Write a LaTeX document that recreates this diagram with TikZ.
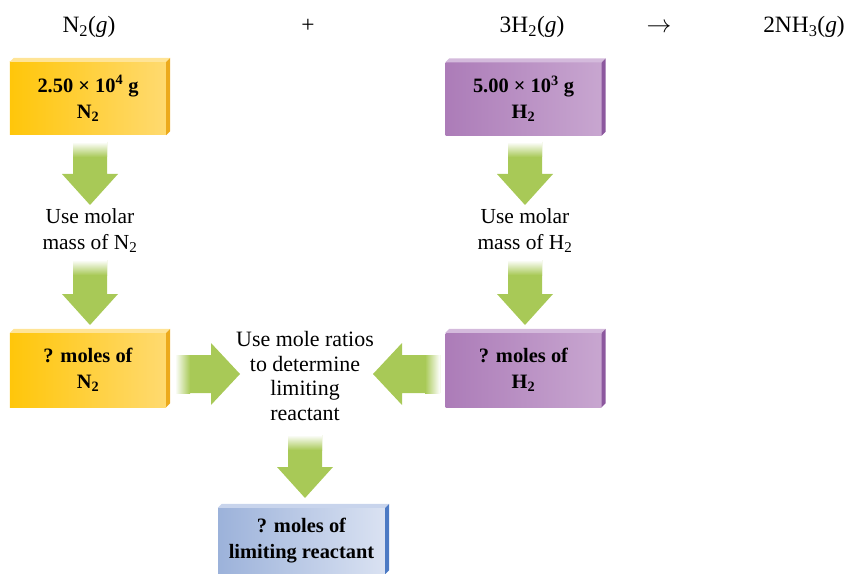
\documentclass[tikz,border=0pt]{standalone}
\usepackage{fontspec}
\setmainfont{Liberation Serif}
\usetikzlibrary{calc}

\definecolor{agreen}{RGB}{168,201,87}
\definecolor{yelL}{RGB}{255,198,10}
\definecolor{yelR}{RGB}{255,218,112}
\definecolor{yelTop}{RGB}{255,228,150}
\definecolor{yelSide}{RGB}{236,170,28}
\definecolor{purL}{RGB}{172,124,184}
\definecolor{purR}{RGB}{200,166,208}
\definecolor{purTop}{RGB}{212,186,220}
\definecolor{purSide}{RGB}{140,88,158}
\definecolor{bluL}{RGB}{156,178,218}
\definecolor{bluR}{RGB}{218,226,242}
\definecolor{bluTop}{RGB}{200,212,236}
\definecolor{bluSide}{RGB}{76,122,196}

\tikzset{
  slab/.style={inner sep=0pt, minimum width=156bp, minimum height=73bp,
    align=center, font=\fontsize{20.5}{26}\selectfont\bfseries},
  ybox/.style={slab, left color=yelL, right color=yelR},
  pbox/.style={slab, left color=purL, right color=purR},
  bbox/.style={slab, left color=bluL, right color=bluR},
  note/.style={align=center, font=\fontsize{21.5}{26}\selectfont},
  eqn/.style={anchor=base, inner sep=0pt, font=\fontsize{23.5}{28}\selectfont},
}

% top and right faces of a slab node
\newcommand\slabfaces[3]{%
  \fill[#2] (#1.north west) -- ($(#1.north west)+(4,-4)$)
    -- ($(#1.north east)+(4,-4)$) -- (#1.north east) -- cycle;
  \fill[#3] (#1.north east) -- ($(#1.north east)+(4,-4)$)
    -- ($(#1.south east)+(4,-4)$) -- (#1.south east) -- cycle;}

% fat arrows, shaft fading out at the tail
\newcommand\downblock[2]{%
  \fill[agreen] let \p1=(#1), \p2=(#2) in
    (\x1-17bp,\y1) -- (\x1+17bp,\y1) -- (\x1+17bp,\y2+31bp) -- (\x1+28bp,\y2+31bp)
    -- (\x1,\y2) -- (\x1-28bp,\y2+31bp) -- (\x1-17bp,\y2+31bp) -- cycle;
  \shade[top color=white, bottom color=agreen] let \p1=(#1) in
    (\x1-17bp,\y1) rectangle (\x1+17bp,\y1-15bp);}
\newcommand\rightblock[2]{%
  \fill[agreen] let \p1=(#1), \p2=(#2) in
    (\x1,\y1+19bp) -- (\x2-29bp,\y1+19bp) -- (\x2-29bp,\y1+31bp) -- (\x2,\y1)
    -- (\x2-29bp,\y1-31bp) -- (\x2-29bp,\y1-19bp) -- (\x1,\y1-19bp) -- cycle;
  \shade[left color=white, right color=agreen] let \p1=(#1) in
    (\x1,\y1-19bp) rectangle (\x1+15bp,\y1+19bp);}
\newcommand\leftblock[2]{%
  \fill[agreen] let \p1=(#1), \p2=(#2) in
    (\x1,\y1+19bp) -- (\x2+29bp,\y1+19bp) -- (\x2+29bp,\y1+31bp) -- (\x2,\y1)
    -- (\x2+29bp,\y1-31bp) -- (\x2+29bp,\y1-19bp) -- (\x1,\y1-19bp) -- cycle;
  \shade[left color=agreen, right color=white] let \p1=(#1) in
    (\x1-15bp,\y1-19bp) rectangle (\x1,\y1+19bp);}

\begin{document}
\begin{tikzpicture}[x=1bp, y=-1bp]
\useasboundingbox (0,0) rectangle (848,574);

% reaction equation
\node[eqn] (eqN)   at (89,33)  {N\textsubscript{2}(\textit{g})};
\node[eqn] (eqP)   at (308,33) {+};
\node[eqn] (eqH)   at (532,33) {3H\textsubscript{2}(\textit{g})};
\node[eqn, font=\fontsize{27}{28}\selectfont] (eqA) at (659,33) {$\rightarrow$};
\node[eqn] (eqNH)  at (804,33) {2NH\textsubscript{3}(\textit{g})};

% slabs
\node[ybox] (n2g) at (88,98.5) {2.50 × 10\textsuperscript{4} g\\N\textsubscript{2}};
\slabfaces{n2g}{yelTop}{yelSide}
\node[pbox] (h2g) at (523.5,99) {5.00 × 10\textsuperscript{3} g\\H\textsubscript{2}};
\slabfaces{h2g}{purTop}{purSide}
\node[ybox, minimum height=74bp] (n2mol) at (88,370) {? moles of\\N\textsubscript{2}};
\slabfaces{n2mol}{yelTop}{yelSide}
\node[pbox, minimum height=74bp] (h2mol) at (523.5,370) {? moles of\\H\textsubscript{2}};
\slabfaces{h2mol}{purTop}{purSide}
\node[bbox, minimum width=167bp, minimum height=66bp] (limmol) at (301.5,541) {? moles of\\limiting reactant};
\slabfaces{limmol}{bluTop}{bluSide}

% step notes
\node[note] (usemN) at (90,231) {Use molar\\mass of N\textsubscript{2}};
\node[note] (usemH) at (525,231) {Use molar\\mass of H\textsubscript{2}};
\node[note, font=\fontsize{22}{24.5}\selectfont] (ratio) at (305,376)
  {Use mole ratios\\to determine\\limiting\\reactant};

% arrow ends
\coordinate (a1s) at (90,142);  \coordinate (a1e) at (90,205);
\coordinate (a2s) at (90,260);  \coordinate (a2e) at (90,325);
\coordinate (b1s) at (525,142); \coordinate (b1e) at (525,205);
\coordinate (b2s) at (525,260); \coordinate (b2e) at (525,325);
\coordinate (cLs) at (175,374); \coordinate (cLe) at (240,374);
\coordinate (cRs) at (440,374); \coordinate (cRe) at (373,374);
\coordinate (dS)  at (305,435); \coordinate (dE)  at (305,498);

\downblock{a1s}{a1e}
\downblock{a2s}{a2e}
\downblock{b1s}{b1e}
\downblock{b2s}{b2e}
\rightblock{cLs}{cLe}
\leftblock{cRs}{cRe}
\downblock{dS}{dE}
\end{tikzpicture}
\end{document}
